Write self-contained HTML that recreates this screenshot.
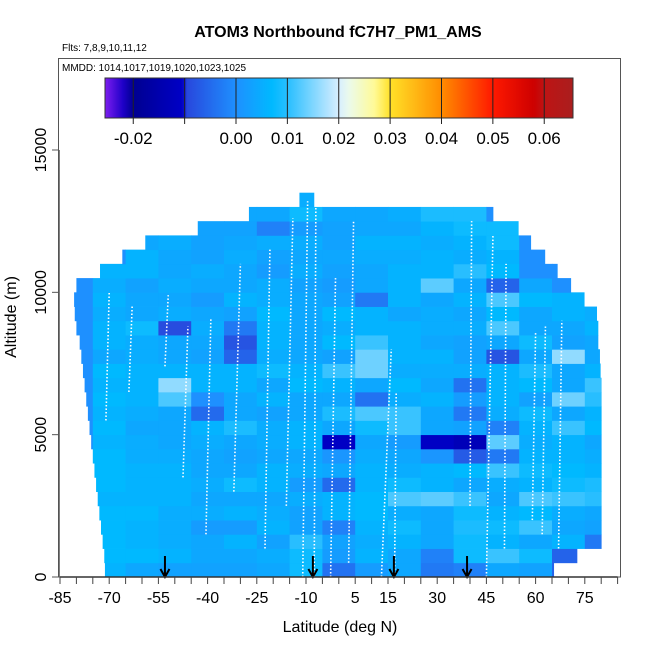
<!DOCTYPE html>
<html><head><meta charset="utf-8"><style>
body{margin:0;background:#fff}
svg text{font-family:"Liberation Sans",sans-serif}
</style></head><body>
<svg id="chart" width="650" height="650" viewBox="0 0 650 650" xmlns="http://www.w3.org/2000/svg">
<defs>
<linearGradient id="cbgrad" x1="0" x2="1" y1="0" y2="0"></linearGradient>
</defs>
<rect x="0" y="0" width="650" height="650" fill="#fff"/>
<text x="338" y="37" text-anchor="middle" font-size="16" font-weight="bold">ATOM3 Northbound fC7H7_PM1_AMS</text>
<text x="62" y="51" font-size="10">Flts: 7,8,9,10,11,12</text>
<g id="heat"></g>
<g id="profiles"></g>
<g id="arrows"></g>
<rect x="58.5" y="58.5" width="562" height="518.5" fill="none" stroke="#555" stroke-width="1"/>
<text x="62" y="71" font-size="10">MMDD: 1014,1017,1019,1020,1023,1025</text>
<g id="colorbar"></g>
<g id="xaxis"></g>
<g id="yaxis"></g>
<text x="340" y="632" text-anchor="middle" font-size="16">Latitude (deg N)</text>
<text transform="translate(16,317) rotate(-90)" text-anchor="middle" font-size="16">Altitude (m)</text>
</svg>
<script>
// ---- data ----
const latBins = [-80,-70,-60,-50,-40,-30,-20,-10,0,10,20,30,40,50,60,70,80];
const altRows = [0,500,1000,1500,2000,2500,3000,3500,4000,4500,5000,5500,6000,6500,7000,7500,8000,8500,9000,9500,10000,10500,11000,11500,12000,12500,13000];
const rowLatMin = [-71.3,-71.5,-72,-72.5,-73,-73.5,-74,-74.5,-75,-75.5,-76,-76.5,-77,-77.5,-78,-78.5,-79,-80,-80.5,-80.7,-80,-72.8,-66,-59,-43,-27.4,-12];
const rowLatMax = [65.5,72.6,80,80,80,80,80,80,80,80,80,80,80,80,79.7,79.5,79,79,78.6,74.8,70.7,66.6,62.8,58.5,54.7,47,-7.6];
const rowValues = [
 [0,0.006,0.004,0.003,0.003,0.003,0.004,0.008,-0.004,0.002,0.004,-0.003,-0.002,0.004,0.003,-0.006,0],
 [0,0.007,0.007,0.006,0.004,0.004,0.005,0.008,0.002,0.006,0.004,-0.002,0.008,0.011,0.008,-0.006,0],
 [0,0.007,0.006,0.005,0.004,0.006,0.003,0.010,0.003,0.005,0.006,0.004,0.008,0.006,0.004,0.006,-0.003],
 [0,0.007,0.006,0.005,0.002,0.002,0.006,0.003,-0.002,0.006,0.008,0.004,0.009,0.008,0.011,0.004,0.003],
 [0,0.007,0.007,0.005,0.005,0.006,0.005,0.003,0.006,0.007,0.005,0.004,0.008,0.006,0.007,0.005,0.004],
 [0,0.006,0.006,0.006,0.004,0.004,0.004,0.005,0.006,0.007,0.012,0.013,0.011,0.004,0.012,0.011,0.010],
 [0,0.007,0.006,0.006,0.005,0.008,0.006,0.002,-0.005,0.006,0.008,0.006,0.004,0.005,0.006,0.008,0.009],
 [0,0.007,0.006,0.006,0.004,0.004,0.006,0.005,0.004,0.006,0.005,0.006,0.007,0.011,0.008,0.007,0.006],
 [0,0.007,0.005,0.005,0.004,0.003,0.004,0.004,0.001,0.005,0.004,0.001,-0.007,-0.003,0.006,0.006,0.005],
 [0,0.006,0.005,0.004,0.005,0.004,0.005,0.006,-0.011,0.004,0.002,-0.011,-0.013,0.013,0.005,0.006,0.004],
 [0,0.007,0.004,0.004,0.006,0.009,0.005,0.006,0.004,0.008,0.011,0.004,0.003,-0.002,0.006,0.011,0.007],
 [0,0.006,0.005,0.004,-0.005,0.004,0.003,0.004,0.009,0.012,0.011,0.004,-0.003,0.005,0.008,0.004,0.006],
 [0,0.007,0.006,0.012,0.000,0.004,0.006,0.004,0.004,-0.004,0.005,0.006,0.002,0.006,0.003,0.014,0.010],
 [0,0.006,0.006,0.016,0.006,0.006,0.004,0.007,0.006,0.004,0.007,0.004,-0.004,0.006,0.007,0.004,0.011],
 [0,0.007,0.006,0.006,0.006,0.006,0.008,0.006,0.011,0.014,0.005,0.005,0.005,0.006,0.009,0.004,0.006],
 [0,0.004,0.005,0.004,0.003,-0.006,0.005,0.004,0.003,0.014,0.006,0.006,0.003,-0.008,0.004,0.016,0.004],
 [0,0.006,0.005,0.004,0.004,-0.008,0.006,0.004,0.007,0.011,0.006,0.004,0.003,0.004,0.008,0.003,0.004],
 [0,0.006,0.008,-0.009,0.005,-0.003,0.006,0.004,0.005,0.006,0.006,0.005,0.005,0.012,0.004,0.004,0.006],
 [0,0.005,0.004,0.005,0.004,0.003,0.007,0.004,0.007,0.006,0.004,0.005,0.004,0.007,0.004,0.006,0.005],
 [0,0.006,0.004,0.004,0.002,0.006,0.005,0.004,0.003,-0.003,0.006,0.004,0.006,0.012,0.007,0.006,0],
 [0,0.005,0.003,0.005,0.004,0.004,0.005,0.003,0.002,0.004,0.006,0.013,0.004,-0.006,0.004,0,0],
 [0,0.006,0.006,0.004,0.005,0.004,0.002,0.005,0.003,0.004,0.006,0.006,0.010,0.007,0,0,0],
 [0,0,0.006,0.004,0.003,0.005,0.003,0.004,0.004,0.005,0.005,0.006,0.005,0.006,0,0,0],
 [0,0,0.004,0.005,0.003,0.004,0.005,0.005,0.003,0.006,0.006,0.005,0.006,0.008,0,0,0],
 [0,0,0,0,0.003,0.003,-0.002,0.002,0.003,0.004,0.004,0.006,0.008,0.008,0,0,0],
 [0,0,0,0,0,0.004,0.004,0.008,0.004,0.004,0.005,0.009,0.009,0,0,0,0],
 [0,0,0,0,0,0,0,0.005,0,0,0,0,0,0,0,0,0]
];
// flight profiles: [latBottom, latTop, altBottom, altTop]
const profiles = [
 [-71,-70,5500,10000],[-64,-63,6500,9500],[-53,-52,7400,9900],[-47.5,-46,3500,8800],
 [-40.5,-39,1500,9100],[-32,-30,3000,11000],[-22.5,-21,1000,11500],[-16,-14,2500,12600],
 [-11,-9.5,0,13200],[-7.5,-7,0,13000],[-2.5,-1,0,10500],[3,4.5,500,12500],
 [13,16,0,8000],[17,17.5,0,6500],[40,40.5,2500,12500],[45,47,0,12000],
 [50.5,51,1000,11000],[59,60,2000,8600],[62,63,1500,8800],[67,68,1000,9000]
];
const arrowLats = [-53,-7.9,16.8,39.1];
const xTickLabels = [-85,-70,-55,-40,-25,-10,5,15,30,45,60,75];
const yTickLabels = [0,5000,10000,15000];
const cbTickLabels = [-0.02,0.00,0.01,0.02,0.03,0.04,0.05,0.06];
const cbLines = [-0.02,-0.01,0.00,0.01,0.02,0.03,0.04,0.05,0.06];

// ---- scales ----
const xS = lat => 60 + (lat + 85) * 3.28;
const yS = alt => 577 - alt * 0.028467;
const cbX = v => 105 + (v + 0.0255) * (468 / 0.0911);
const NS = 'http://www.w3.org/2000/svg';
const stops = [[-0.0255,[125,30,240]],[-0.022,[30,0,200]],[-0.02,[0,0,145]],[-0.0102,[0,0,200]],[-0.0098,[40,70,220]],
 [0,[30,144,255]],[0.007,[0,185,255]],[0.01,[40,190,255]],[0.02,[215,238,255]],
 [0.022,[235,250,235]],[0.027,[255,250,150]],[0.03,[255,225,40]],[0.04,[255,140,0]],[0.05,[255,25,0]],
 [0.058,[205,0,0]],[0.06,[190,20,20]],[0.0656,[170,30,30]]];
function col(v){
  if(v<=stops[0][0]) return 'rgb('+stops[0][1]+')';
  for(let i=1;i<stops.length;i++){ if(v<=stops[i][0]){const a=stops[i-1],b=stops[i],t=(v-a[0])/(b[0]-a[0]);
    const c=a[1].map((q,k)=>Math.round(q+(b[1][k]-q)*t));return 'rgb('+c.join(',')+')';}}
  return 'rgb('+stops[stops.length-1][1]+')';
}
function mk(tag,attrs,parent){const e=document.createElementNS(NS,tag);for(const k in attrs)e.setAttribute(k,attrs[k]);parent.appendChild(e);return e;}

// ---- heatmap ----
const heat=document.getElementById('heat');
altRows.forEach((alt,r)=>{
  latBins.forEach((c,b)=>{
    const lo=Math.max(c-5,rowLatMin[r]), hi=Math.min(c+5,rowLatMax[r]);
    if(hi<=lo) return;
    const el=mk('rect',{x:xS(lo),y:yS(alt+500),width:xS(hi)-xS(lo)+0.4,height:yS(alt)-yS(alt+500)+0.4,fill:col(rowValues[r][b])},heat);
    
    
  });
});
// ---- profiles ----
const pg=document.getElementById('profiles');
profiles.forEach(p=>{
  const el=mk('line',{x1:xS(p[0]),y1:yS(p[2]),x2:xS(p[1]),y2:yS(p[3]),stroke:'#fff','stroke-width':1.6,'stroke-dasharray':'1.5 2'},pg);
  
  
});
// ---- arrows ----
const ag=document.getElementById('arrows');
arrowLats.forEach(l=>{
  const x=xS(l);
  const el=mk('path',{d:`M${x},556 L${x},577 M${x-4.5},569 L${x},577 L${x+4.5},569`,stroke:'#000','stroke-width':2,fill:'none'},ag);
  
  
});
// ---- colorbar ----
const grad=document.getElementById('cbgrad');
for(let i=0;i<=160;i++){const v=-0.0255+0.0911*i/160;mk('stop',{offset:(i/160),'stop-color':col(v)},grad);}
const cb=document.getElementById('colorbar');
let el=mk('rect',{x:105,y:78,width:468,height:40,fill:'url(#cbgrad)',stroke:'#333','stroke-width':1},cb);


cbLines.forEach(v=>{
  const e=mk('line',{x1:cbX(v),x2:cbX(v),y1:78,y2:124,stroke:'#222','stroke-width':1},cb);
  
  
});
cbTickLabels.forEach(v=>{
  const t=mk('text',{x:cbX(v),y:144,'text-anchor':'middle','font-size':17},cb);
  t.textContent=v.toFixed(2);
  
  
});
// ---- axes ----
const xa=document.getElementById('xaxis');
mk('line',{x1:xS(-85),x2:xS(85),y1:577,y2:577,stroke:'#333','stroke-width':1.5},xa);
for(let l=-85;l<=85;l+=5){
  const e=mk('line',{x1:xS(l),x2:xS(l),y1:577,y2:584,stroke:'#444','stroke-width':1},xa);
  
  
}
xTickLabels.forEach(l=>{
  const t=mk('text',{x:xS(l),y:603,'text-anchor':'middle','font-size':16},xa);
  t.textContent=l;
  
  
});
const ya=document.getElementById('yaxis');
mk('line',{x1:59,x2:59,y1:yS(0),y2:yS(15000),stroke:'#555','stroke-width':1.5},ya);
yTickLabels.forEach(v=>{
  const e=mk('line',{x1:52,x2:59,y1:yS(v),y2:yS(v),stroke:'#555','stroke-width':1},ya);
  
  
  const t=mk('text',{transform:`translate(46,${yS(v)}) rotate(-90)`,'text-anchor':'middle','font-size':16},ya);
  t.textContent=v;
  
  
});
</script>
</body></html>
